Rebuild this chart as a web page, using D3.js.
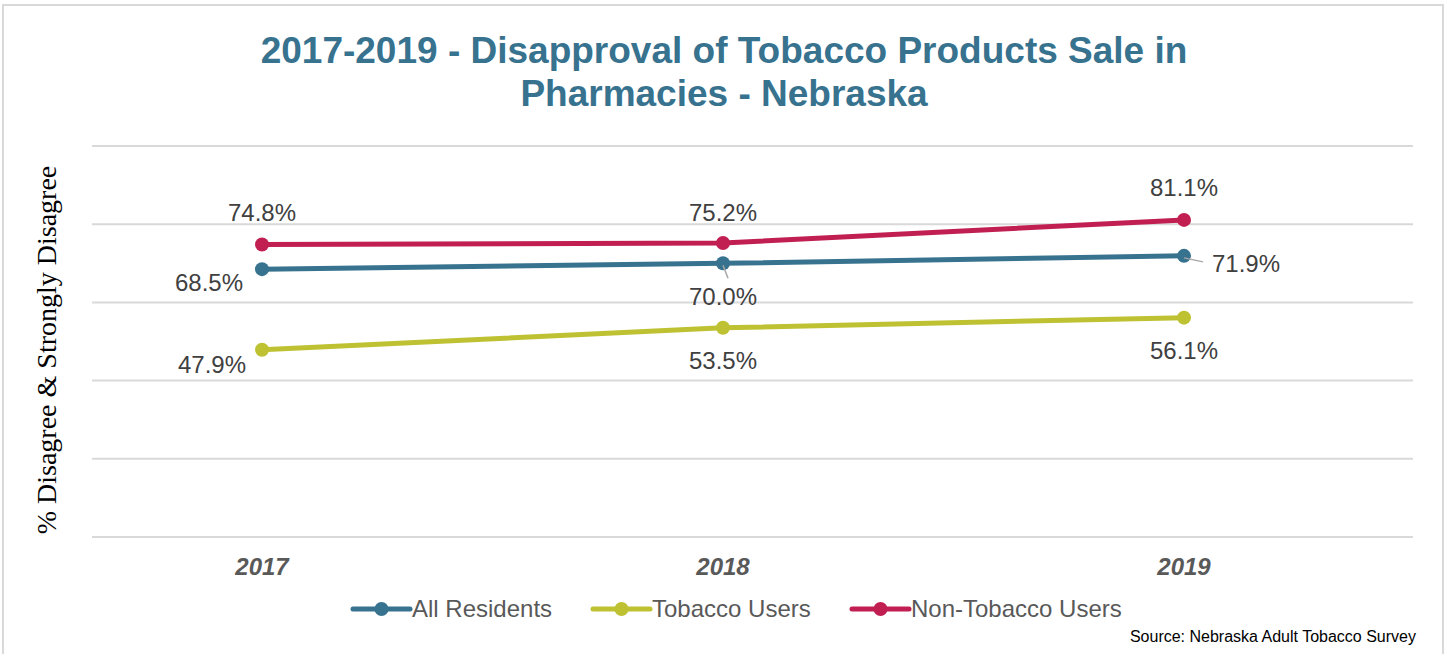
<!DOCTYPE html>
<html><head><meta charset="utf-8">
<script src="https://cdn.jsdelivr.net/npm/d3@7"></script>
<style>body{margin:0;background:#fff;}svg{display:block;}</style>
</head><body>
<svg id="chart" width="1450" height="654"></svg>
<script>
const years = ["2017", "2018", "2019"];
const allResidents = [68.5, 70.0, 71.9];
const tobaccoUsers = [47.9, 53.5, 56.1];
const nonTobaccoUsers = [74.8, 75.2, 81.1];
const yTicks = [0, 20, 40, 60, 80, 100];
const seriesNames = ["All Residents", "Tobacco Users", "Non-Tobacco Users"];

const series = [
  {name: seriesNames[0], values: allResidents, color: "#37728f"},
  {name: seriesNames[1], values: tobaccoUsers, color: "#bec232"},
  {name: seriesNames[2], values: nonTobaccoUsers, color: "#c11f52"}
];

const svg = d3.select("#chart");
svg.append("rect").attr("x", 3).attr("y", 5).attr("width", 1440).attr("height", 660)
  .attr("fill", "#fff").attr("stroke", "#d9d9d9").attr("stroke-width", 2);

const gridLeft = 92, gridRight = 1413;
const x = d3.scalePoint().domain(years).range([262, 1184]);
const y = d3.scaleLinear().domain([0, 100]).range([537, 146]);

// title
const title = svg.append("text").attr("text-anchor", "middle")
  .attr("font-family", "Liberation Sans, Arial, sans-serif").attr("font-weight", "bold")
  .attr("font-size", 37).attr("fill", "#37728f");
title.append("tspan").attr("x", 724).attr("y", 63).text("2017-2019 - Disapproval of Tobacco Products Sale in");
title.append("tspan").attr("x", 724).attr("y", 106).text("Pharmacies - Nebraska");

// gridlines
svg.append("g").selectAll("line").data(yTicks).join("line")
  .attr("x1", gridLeft).attr("x2", gridRight)
  .attr("y1", d => y(d)).attr("y2", d => y(d))
  .attr("stroke", "#d9d9d9").attr("stroke-width", 2);

// x axis labels
svg.append("g").selectAll("text").data(years).join("text")
  .attr("x", d => x(d)).attr("y", 575).attr("text-anchor", "middle")
  .attr("font-family", "Liberation Sans, Arial, sans-serif").attr("font-weight", "bold")
  .attr("font-style", "italic").attr("font-size", 24).attr("fill", "#595959")
  .text(d => d);

// y axis title
svg.append("text").attr("transform", "translate(56,350) rotate(-90)")
  .attr("text-anchor", "middle").attr("font-family", "Liberation Serif, serif")
  .attr("font-size", 28).attr("fill", "#000").text("% Disagree & Strongly Disagree");

// lines
const line = d3.line().x((d, i) => x(years[i])).y(d => y(d));
series.forEach(s => {
  svg.append("path").datum(s.values).attr("d", line).attr("fill", "none")
    .attr("stroke", s.color).attr("stroke-width", 5).attr("stroke-linecap", "round");
  svg.append("g").selectAll("circle").data(s.values).join("circle")
    .attr("cx", (d, i) => x(years[i])).attr("cy", d => y(d)).attr("r", 7)
    .attr("fill", s.color);
});

// leader lines
const leaders = [
  {si: 0, i: 1, dx: 5, dy: 15},
  {si: 0, i: 2, dx: 19, dy: 6}
];
leaders.forEach(l => {
  const cx = x(years[l.i]), cy = y(series[l.si].values[l.i]);
  svg.append("line").attr("x1", cx).attr("y1", cy + 2).attr("x2", cx + l.dx).attr("y2", cy + l.dy)
    .attr("stroke", "#a6a6a6").attr("stroke-width", 1.5);
});

// data labels: offsets relative to point
const labelOffsets = [
  [[-53, 13, "middle"], [0, 33, "middle"], [28, 7, "start"]],
  [[-50, 15, "middle"], [0, 33, "middle"], [0, 33, "middle"]],
  [[0, -32, "middle"], [0, -31, "middle"], [0, -33, "middle"]]
];
series.forEach((s, si) => {
  svg.append("g").selectAll("text").data(s.values).join("text")
    .attr("x", (d, i) => x(years[i]) + labelOffsets[si][i][0])
    .attr("y", (d, i) => y(d) + labelOffsets[si][i][1])
    .attr("dy", "0.36em").attr("text-anchor", (d, i) => labelOffsets[si][i][2])
    .attr("font-family", "Liberation Sans, Arial, sans-serif").attr("font-size", 24)
    .attr("fill", "#404040").text(d => d.toFixed(1) + "%");
});

// legend
const legendX = [353, 593, 852];
const lg = svg.append("g").selectAll("g").data(series).join("g")
  .attr("transform", (d, i) => `translate(${legendX[i]},609)`);
lg.append("line").attr("x1", 0).attr("x2", 57).attr("y1", 0).attr("y2", 0)
  .attr("stroke", d => d.color).attr("stroke-width", 5).attr("stroke-linecap", "round");
lg.append("circle").attr("cx", 28.5).attr("cy", 0).attr("r", 7).attr("fill", d => d.color);
lg.append("text").attr("x", 59).attr("y", 0).attr("dy", "0.35em")
  .attr("font-family", "Liberation Sans, Arial, sans-serif").attr("font-size", 24)
  .attr("fill", "#595959").text(d => d.name);

// source
svg.append("text").attr("x", 1416).attr("y", 642).attr("text-anchor", "end")
  .attr("font-family", "Liberation Sans, Arial, sans-serif").attr("font-size", 16)
  .attr("fill", "#000").text("Source: Nebraska Adult Tobacco Survey");
</script>
</body></html>
